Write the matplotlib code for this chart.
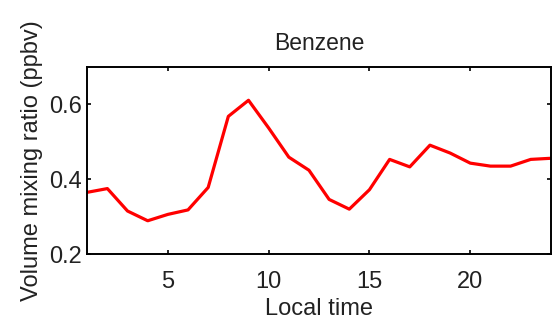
import matplotlib
matplotlib.use("Agg")
import matplotlib.pyplot as plt

plt.rcParams['font.family'] = ['Liberation Sans', 'DejaVu Sans']

hours = list(range(1, 25))
benzene = [0.365, 0.375, 0.315, 0.289, 0.306, 0.318, 0.378, 0.568, 0.611, 0.537,
           0.459, 0.424, 0.346, 0.320, 0.372, 0.453, 0.433, 0.491, 0.470, 0.443,
           0.435, 0.435, 0.453, 0.456]

fig = plt.figure(figsize=(5.52, 3.22), dpi=100)
ax = fig.add_axes([0.158, 0.211, 0.840, 0.581])
ax.plot(hours, benzene, color='red', linewidth=2.3)

ax.set_xlim(1, 24)
ax.set_ylim(0.2, 0.7)
ax.set_xticks([5, 10, 15, 20])
ax.set_yticks([0.2, 0.4, 0.6])
ax.tick_params(direction='in', top=True, right=True, labelsize=17, length=3, width=1.2,
               labelcolor='#222222')
ax.tick_params(axis='x', pad=12)
ax.tick_params(axis='y', pad=4)
for s in ax.spines.values():
    s.set_linewidth(1.4)

ax.set_title("Benzene", fontsize=16.5, pad=12, color='#222222')
ax.set_xlabel("Local time", fontsize=17, labelpad=4, color='#222222')
ax.set_ylabel("Volume mixing ratio (ppbv)", fontsize=17, labelpad=4, color='#222222')

fig.savefig("out.png", dpi=100)
